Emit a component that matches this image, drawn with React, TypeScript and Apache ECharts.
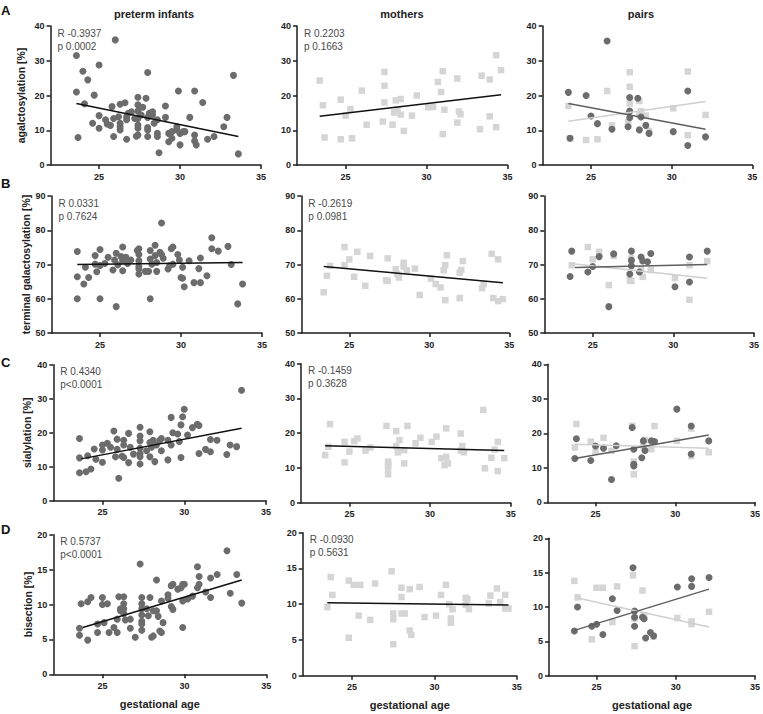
import React, { useEffect, useRef } from "react";
import * as echarts from "echarts";

type P = [number, number];

// ---------- texts ----------
const columnTitles = ["preterm infants", "mothers", "pairs"];
const rowLetters = ["A", "B", "C", "D"];
const yNames = ["agalctosylation [%]", "terminal galactosylation [%]", "sialylation [%]", "bisection [%]"];
const xName = "gestational age";
const xTicks = [25, 30, 35];
const xMin = 22;
const xMax = 35;
// [min, max, interval] per row
const yRanges: number[][] = [[0, 40, 10], [50, 90, 10], [0, 40, 10], [0, 20, 5]];

// ---------- stats ----------
const agalInfantsStat = ["R -0.3937", "p 0.0002"];
const agalMothersStat = ["R 0.2203", "p 0.1663"];
const galInfantsStat = ["R 0.0331", "p 0.7624"];
const galMothersStat = ["R -0.2619", "p 0.0981"];
const sialInfantsStat = ["R 0.4340", "p<0.0001"];
const sialMothersStat = ["R -0.1459", "p 0.3628"];
const bisInfantsStat = ["R 0.5737", "p<0.0001"];
const bisMothersStat = ["R -0.0930", "p 0.5631"];

// ---------- A: agalactosylation ----------
const agalInfants: P[] = [[23.6,31.5],[23.6,21.0],[23.7,7.9],[24.0,27.0],[24.1,17.6],[24.3,24.5],[24.6,12.0],[24.7,20.1],[25.0,28.8],[25.0,14.2],[25.0,10.6],[25.4,13.0],[25.5,11.8],[25.7,11.4],[25.8,16.8],[25.9,8.2],[26.0,36.0],[25.9,13.4],[26.2,13.9],[26.3,17.5],[26.3,12.0],[26.3,11.0],[26.3,10.1],[26.6,17.9],[26.7,13.9],[26.7,13.0],[26.7,7.4],[26.8,14.9],[27.0,15.3],[27.2,13.4],[27.4,19.5],[27.4,17.3],[27.4,15.5],[27.4,13.4],[27.4,11.5],[27.4,10.6],[27.4,8.6],[27.3,8.3],[27.6,14.4],[27.7,16.6],[27.9,19.2],[28.0,26.6],[28.0,13.7],[28.0,10.8],[28.0,10.1],[28.0,8.2],[28.1,14.9],[28.3,15.3],[28.3,14.4],[28.4,12.0],[28.6,13.0],[28.6,9.1],[28.6,8.2],[28.7,3.5],[29.1,17.0],[29.1,13.7],[29.3,9.1],[29.3,6.7],[29.5,9.6],[29.5,7.7],[29.8,11.0],[29.8,10.1],[29.9,21.3],[30.0,9.1],[30.0,5.8],[30.2,9.6],[30.3,9.6],[30.6,13.7],[30.9,8.6],[30.9,21.3],[30.9,6.9],[31.0,5.8],[31.4,18.0],[31.7,7.4],[32.1,8.2],[32.7,11.0],[32.9,13.7],[33.3,25.8],[33.6,3.2]];
const agalInfantsFit: P[] = [[23.6,17.7],[33.6,8.2]];
const agalMothers: P[] = [[23.4,24.3],[23.6,17.2],[23.7,7.9],[24.7,18.8],[24.7,7.4],[25.0,14.2],[25.3,16.1],[25.4,7.7],[26.0,21.4],[26.3,11.6],[27.3,12.5],[27.4,26.8],[27.4,22.8],[27.4,18.0],[27.9,11.6],[28.0,15.1],[28.1,18.6],[28.2,15.9],[28.4,19.0],[28.4,14.5],[28.6,9.8],[29.1,14.2],[29.4,20.0],[30.1,16.6],[30.4,16.7],[30.7,23.9],[30.9,21.0],[31.0,27.0],[31.0,8.9],[31.1,15.9],[31.9,12.2],[31.9,24.9],[32.0,15.4],[32.1,14.6],[33.3,10.3],[33.4,25.7],[33.9,24.6],[33.9,14.0],[34.3,10.9],[34.3,31.6],[34.6,27.3]];
const agalMothersFit: P[] = [[23.4,14.0],[34.6,20.2]];
const agalPairInfants: P[] = [[23.6,20.9],[23.7,7.7],[24.7,20.0],[25.0,14.1],[25.4,11.9],[26.0,35.7],[26.3,10.3],[27.3,11.0],[27.4,19.4],[27.4,15.5],[27.4,13.6],[27.9,19.2],[28.0,10.1],[28.1,13.8],[28.4,11.4],[28.6,9.1],[30.1,9.6],[31.0,21.3],[31.0,5.6],[32.1,8.1]];
const agalPairMothers: P[] = [[23.6,17.0],[23.7,7.7],[24.7,7.2],[25.4,7.4],[26.0,21.3],[26.3,11.4],[27.4,26.7],[27.4,22.5],[27.4,17.7],[27.3,12.3],[28.0,18.4],[28.1,15.5],[28.0,14.4],[28.4,14.2],[28.6,9.8],[30.1,16.3],[31.0,26.9],[31.0,8.6],[32.1,14.4]];
const agalPairInfantsFit: P[] = [[23.6,17.7],[32.1,10.3]];
const agalPairMothersFit: P[] = [[23.6,12.6],[32.1,18.3]];

// ---------- B: terminal galactosylation ----------
const galInfants: P[] = [[23.6,73.8],[23.6,66.4],[23.6,60.0],[24.0,64.3],[24.1,69.2],[24.3,66.2],[24.7,70.1],[24.7,72.6],[24.8,67.9],[25.0,74.4],[25.0,69.7],[25.0,60.0],[25.3,70.3],[25.5,72.1],[25.8,68.4],[25.9,71.3],[26.0,73.3],[26.0,57.7],[26.1,69.9],[26.3,72.3],[26.4,75.1],[26.4,71.1],[26.4,68.2],[26.6,72.1],[26.7,70.3],[26.9,71.3],[27.3,74.1],[27.4,74.6],[27.4,72.9],[27.4,71.1],[27.4,69.4],[27.4,68.7],[27.4,67.2],[27.8,68.0],[28.0,68.0],[28.1,74.1],[28.1,60.0],[28.1,71.6],[28.2,70.1],[28.4,72.6],[28.4,75.6],[28.5,70.6],[28.5,68.0],[28.7,73.6],[28.8,82.1],[28.8,72.9],[28.9,71.8],[29.2,68.7],[29.3,69.7],[29.4,74.6],[29.5,75.1],[29.5,70.1],[29.8,72.9],[29.9,71.3],[30.0,66.2],[30.1,69.2],[30.1,66.0],[30.2,63.5],[30.5,71.1],[30.8,64.7],[31.1,68.8],[31.2,71.9],[31.2,64.7],[31.6,66.7],[31.9,77.8],[31.9,74.6],[32.3,73.9],[32.9,75.3],[33.1,70.0],[33.5,58.5],[33.8,64.3]];
const galInfantsFit: P[] = [[23.6,70.0],[33.8,70.6]];
const galMothers: P[] = [[23.4,61.9],[23.6,66.7],[23.8,69.6],[24.7,75.1],[24.7,69.8],[25.0,71.5],[25.3,66.4],[25.5,73.7],[26.0,63.8],[26.3,72.5],[27.4,71.8],[27.3,65.4],[27.4,65.2],[27.9,68.6],[28.0,67.2],[28.1,66.2],[28.4,70.5],[28.4,69.4],[28.6,68.3],[29.1,68.8],[29.4,61.1],[30.1,65.9],[30.4,64.3],[30.7,63.3],[30.9,68.3],[31.0,69.8],[31.0,59.6],[31.1,72.7],[31.9,60.2],[31.9,67.6],[32.0,68.4],[32.1,71.0],[33.3,63.1],[33.4,64.3],[33.9,73.1],[34.0,60.2],[34.3,71.5],[34.3,59.3],[34.6,59.9]];
const galMothersFit: P[] = [[23.4,69.4],[34.6,64.7]];
const galPairInfants: P[] = [[23.6,66.5],[23.7,73.9],[24.7,67.8],[25.0,69.4],[25.4,72.3],[26.0,57.7],[26.3,73.1],[27.3,67.2],[27.4,73.9],[27.4,71.2],[27.4,69.6],[27.9,67.8],[28.0,72.2],[28.1,71.0],[28.4,70.8],[28.6,73.2],[30.1,63.5],[31.0,72.2],[31.0,64.9],[32.1,73.9]];
const galPairMothers: P[] = [[23.7,69.8],[24.7,75.1],[25.0,71.5],[25.4,73.7],[26.0,64.0],[26.3,72.5],[27.4,71.8],[27.3,65.4],[27.4,65.2],[28.0,68.6],[28.1,66.4],[28.6,68.4],[30.1,66.0],[31.0,69.8],[31.0,59.7],[32.1,71.0]];
const galPairInfantsFit: P[] = [[23.9,69.1],[32.1,70.0]];
const galPairMothersFit: P[] = [[23.6,70.3],[32.1,66.0]];

// ---------- C: sialylation ----------
const sialInfants: P[] = [[23.6,12.6],[23.6,18.3],[23.6,8.2],[24.0,8.5],[24.1,13.2],[24.3,9.3],[24.5,15.2],[24.6,12.2],[25.0,11.3],[25.0,14.9],[25.0,16.4],[25.3,16.9],[25.5,15.7],[25.7,20.5],[25.8,12.9],[25.9,18.1],[25.9,15.1],[26.0,6.6],[26.2,13.1],[26.3,17.8],[26.3,16.4],[26.3,12.7],[26.6,11.2],[26.6,19.8],[26.7,15.7],[26.9,13.7],[27.3,21.6],[27.3,17.6],[27.3,19.0],[27.3,15.4],[27.3,13.9],[27.3,12.9],[27.3,10.8],[27.7,14.7],[27.9,17.1],[27.9,20.3],[27.9,12.9],[28.0,15.7],[28.1,17.8],[28.2,11.5],[28.3,16.4],[28.5,17.8],[28.6,18.3],[28.6,14.7],[29.0,17.8],[29.0,12.0],[29.2,24.5],[29.2,16.4],[29.3,20.0],[29.6,19.6],[29.7,17.4],[29.8,22.3],[29.8,12.7],[29.9,24.7],[30.0,26.9],[30.2,19.3],[30.5,21.5],[30.8,22.5],[30.9,22.1],[30.9,13.9],[31.3,15.1],[31.6,18.0],[31.6,14.4],[32.0,17.8],[32.6,13.6],[32.8,16.4],[33.2,15.9],[33.5,32.5]];
const sialInfantsFit: P[] = [[23.7,12.3],[33.5,21.3]];
const sialMothers: P[] = [[23.5,13.7],[23.7,16.1],[23.8,22.6],[24.7,17.5],[24.7,11.6],[25.0,14.7],[25.3,17.7],[25.5,18.5],[26.0,15.0],[26.3,15.9],[27.3,22.1],[27.4,11.8],[27.4,10.8],[27.4,10.1],[27.4,8.2],[27.9,20.6],[27.9,16.3],[28.0,14.5],[28.1,18.0],[28.4,15.1],[28.4,11.3],[28.6,22.1],[29.1,17.1],[29.4,18.7],[30.1,17.5],[30.4,19.0],[30.7,12.8],[30.9,10.8],[31.0,21.4],[31.0,13.2],[31.1,11.3],[31.9,19.9],[31.9,15.0],[32.0,16.3],[32.1,14.5],[33.3,26.7],[33.4,9.9],[33.8,12.9],[34.0,15.3],[34.2,17.5],[34.2,9.1],[34.6,12.8]];
const sialMothersFit: P[] = [[23.5,16.4],[34.6,15.0]];
const sialPairInfants: P[] = [[23.7,12.7],[23.8,18.4],[24.7,12.1],[25.0,16.3],[25.5,15.7],[26.0,6.6],[26.3,16.4],[27.3,21.7],[27.4,15.4],[27.4,11.0],[27.4,10.5],[27.9,12.9],[28.0,17.8],[28.1,15.0],[28.5,17.8],[28.7,17.6],[30.1,27.0],[31.0,22.1],[31.0,14.0],[32.1,17.8]];
const sialPairMothers: P[] = [[23.7,15.9],[23.8,22.7],[24.7,17.6],[25.0,14.7],[25.5,18.7],[26.0,14.9],[27.3,22.2],[27.4,11.8],[27.4,8.1],[28.1,18.1],[28.0,16.3],[28.5,15.4],[28.7,22.1],[30.1,17.8],[31.0,21.4],[31.0,13.4],[32.1,14.5]];
const sialPairInfantsFit: P[] = [[23.7,12.7],[32.1,19.5]];
const sialPairMothersFit: P[] = [[23.7,16.8],[32.1,15.7]];

// ---------- D: bisection ----------
const bisInfants: P[] = [[23.6,6.6],[23.6,5.6],[23.7,10.1],[24.1,4.9],[24.1,10.4],[24.3,11.0],[24.7,6.0],[24.7,7.2],[25.0,11.0],[25.0,10.0],[25.1,7.4],[25.3,10.1],[25.4,6.0],[25.7,6.7],[25.9,6.0],[25.9,7.9],[26.0,11.1],[26.1,9.1],[26.1,9.4],[26.3,11.1],[26.3,10.1],[26.3,9.4],[26.3,8.7],[26.4,7.8],[26.7,6.6],[26.7,7.9],[27.0,5.3],[27.3,15.8],[27.4,11.0],[27.4,10.1],[27.4,9.4],[27.4,8.5],[27.4,7.6],[27.4,7.2],[27.4,6.3],[27.7,9.4],[27.8,8.4],[27.9,11.0],[28.0,5.3],[28.1,5.5],[28.1,9.1],[28.3,13.5],[28.3,9.1],[28.4,8.3],[28.5,6.2],[28.6,6.0],[28.6,10.5],[28.7,7.4],[29.0,11.4],[29.0,10.9],[29.2,9.7],[29.3,9.3],[29.2,12.7],[29.3,12.9],[29.6,12.2],[29.8,12.4],[29.9,10.5],[29.9,12.9],[30.0,12.9],[29.9,6.7],[30.2,10.8],[30.5,11.2],[30.8,12.4],[30.8,15.4],[30.9,14.0],[30.9,12.9],[31.3,11.8],[31.6,11.0],[31.6,13.8],[32.0,14.3],[32.6,17.7],[32.8,11.6],[33.2,14.3],[33.5,10.2]];
const bisInfantsFit: P[] = [[23.8,6.7],[33.5,13.5]];
const bisMothers: P[] = [[23.5,9.6],[23.7,13.8],[23.8,11.3],[24.8,13.3],[24.8,5.3],[25.1,12.7],[25.4,8.4],[25.5,12.7],[26.1,7.8],[26.4,12.9],[27.4,14.6],[27.5,8.7],[27.5,7.9],[27.5,4.4],[28.0,12.3],[28.0,11.0],[28.0,8.7],[28.2,8.7],[28.5,12.1],[28.5,6.3],[28.6,5.7],[29.1,12.4],[29.4,8.2],[30.1,8.4],[30.4,11.3],[30.7,12.7],[30.9,10.0],[31.0,8.0],[31.0,7.4],[31.1,9.3],[31.9,10.9],[32.0,10.7],[31.9,9.9],[32.1,9.3],[33.3,10.1],[33.4,11.2],[33.8,12.2],[34.0,10.3],[34.3,11.3],[34.3,9.4],[34.5,9.4]];
const bisMothersFit: P[] = [[23.5,10.2],[34.5,9.9]];
const bisPairInfants: P[] = [[23.6,6.5],[23.8,10.0],[24.7,7.2],[25.0,7.5],[25.4,6.0],[26.0,11.2],[26.3,9.5],[27.3,15.7],[27.4,9.4],[27.4,8.5],[27.4,7.2],[27.9,8.5],[28.0,8.3],[28.1,5.5],[28.4,6.3],[28.6,5.8],[30.1,12.9],[31.0,14.1],[31.0,13.0],[32.1,14.3]];
const bisPairMothers: P[] = [[23.6,13.8],[23.8,11.4],[24.7,5.3],[25.0,12.8],[25.4,12.8],[26.0,7.8],[26.3,13.0],[27.3,14.6],[27.4,4.3],[27.4,8.3],[27.9,12.4],[28.0,8.8],[28.6,5.7],[30.1,8.4],[31.0,7.9],[31.0,7.5],[32.1,9.3]];
const bisPairInfantsFit: P[] = [[23.6,6.6],[32.1,12.6]];
const bisPairMothersFit: P[] = [[23.8,11.3],[32.1,7.1]];

// ---------- style ----------
const FONT = "'Liberation Sans', Arial, Helvetica, sans-serif";
const DARK = "#6c6c6c";
const LIGHT = "#d5d5d5";
const AXIS = "#1c1c1c";
const LIGHT_LINE = "#cfcfcf";

// grid rectangles [left, top, width, height], row-major
const layout: number[][] = [
  [50.5, 26, 210.5, 139], [297, 26, 210.5, 139], [542.6, 26, 209.7, 139],
  [51.4, 196, 210.6, 137], [301.3, 196, 208, 137], [544.3, 196, 209.7, 137],
  [53.3, 364.7, 212.8, 136], [301, 363.7, 209.7, 139], [547.7, 364.3, 208, 138],
  [53.3, 534.7, 213, 139.6], [302.7, 532.7, 214, 143], [549, 538.3, 206, 137.4],
];
const titleX = [154, 402, 641];
const letterY = [10, 183, 362, 529];
const yNameGap = [24, 20, 21, 20];

type Panel = {
  circles?: P[];
  squares?: P[];
  fits: { data: P[]; color: string }[];
  stat?: string[];
};

const panels: Panel[] = [
  { circles: agalInfants, fits: [{ data: agalInfantsFit, color: "#111" }], stat: agalInfantsStat },
  { squares: agalMothers, fits: [{ data: agalMothersFit, color: "#111" }], stat: agalMothersStat },
  { circles: agalPairInfants, squares: agalPairMothers, fits: [{ data: agalPairMothersFit, color: LIGHT_LINE }, { data: agalPairInfantsFit, color: "#5e5e5e" }] },
  { circles: galInfants, fits: [{ data: galInfantsFit, color: "#111" }], stat: galInfantsStat },
  { squares: galMothers, fits: [{ data: galMothersFit, color: "#111" }], stat: galMothersStat },
  { circles: galPairInfants, squares: galPairMothers, fits: [{ data: galPairMothersFit, color: LIGHT_LINE }, { data: galPairInfantsFit, color: "#5e5e5e" }] },
  { circles: sialInfants, fits: [{ data: sialInfantsFit, color: "#111" }], stat: sialInfantsStat },
  { squares: sialMothers, fits: [{ data: sialMothersFit, color: "#111" }], stat: sialMothersStat },
  { circles: sialPairInfants, squares: sialPairMothers, fits: [{ data: sialPairMothersFit, color: LIGHT_LINE }, { data: sialPairInfantsFit, color: "#5e5e5e" }] },
  { circles: bisInfants, fits: [{ data: bisInfantsFit, color: "#111" }], stat: bisInfantsStat },
  { squares: bisMothers, fits: [{ data: bisMothersFit, color: "#111" }], stat: bisMothersStat },
  { circles: bisPairInfants, squares: bisPairMothers, fits: [{ data: bisPairMothersFit, color: LIGHT_LINE }, { data: bisPairInfantsFit, color: "#5e5e5e" }] },
];

function buildOption() {
  const grid: any[] = [];
  const xAxis: any[] = [];
  const yAxis: any[] = [];
  const series: any[] = [];
  const graphic: any[] = [];

  panels.forEach((p, i) => {
    const row = Math.floor(i / 3);
    const col = i % 3;
    const [left, top, width, height] = layout[i];
    grid.push({ left, top, width, height, containLabel: false });
    xAxis.push({
      gridIndex: i,
      type: "value",
      min: xMin,
      max: xMax,
      name: row === 3 ? xName : "",
      nameLocation: "middle",
      nameGap: 24,
      nameTextStyle: { fontFamily: FONT, fontWeight: "bold", fontSize: 11, color: "#222" },
      axisLine: { show: true, onZero: false, lineStyle: { color: AXIS, width: 1.5 } },
      axisTick: { show: true, customValues: xTicks, length: 4, lineStyle: { color: AXIS, width: 1.5 } },
      axisLabel: { customValues: xTicks, margin: 7, fontFamily: FONT, fontWeight: "bold", fontSize: 9, color: "#222" },
      splitLine: { show: false },
    });
    const [ymin, ymax, yint] = yRanges[row];
    yAxis.push({
      gridIndex: i,
      type: "value",
      min: ymin,
      max: ymax,
      interval: yint,
      name: col === 0 ? yNames[row] : "",
      nameLocation: "middle",
      nameGap: yNameGap[row],
      nameTextStyle: { fontFamily: FONT, fontWeight: "bold", fontSize: 10.5, color: "#222" },
      axisLine: { show: true, onZero: false, lineStyle: { color: AXIS, width: 1.5 } },
      axisTick: { show: true, length: 4, lineStyle: { color: AXIS, width: 1.5 } },
      axisLabel: { margin: 6, showMinLabel: true, showMaxLabel: true, fontFamily: FONT, fontWeight: "bold", fontSize: 9, color: "#222" },
      splitLine: { show: false },
    });
    if (p.squares) {
      series.push({
        type: "scatter", xAxisIndex: i, yAxisIndex: i, data: p.squares,
        symbol: "rect", symbolSize: 6.5, itemStyle: { color: LIGHT, opacity: 1 }, z: 2, silent: true,
      });
    }
    if (p.circles) {
      series.push({
        type: "scatter", xAxisIndex: i, yAxisIndex: i, data: p.circles,
        symbol: "circle", symbolSize: 7, itemStyle: { color: DARK, opacity: 1 }, z: 3, silent: true,
      });
    }
    p.fits.forEach((f) => {
      series.push({
        type: "line", xAxisIndex: i, yAxisIndex: i, data: f.data, showSymbol: false, symbol: "none",
        lineStyle: { color: f.color, width: 1.5 }, z: 4, silent: true,
      });
    });
    if (p.stat) {
      p.stat.forEach((t, k) => {
        graphic.push({
          type: "text", x: left + 7, y: top + 7 + k * 13,
          style: { text: t, fill: "#4a4a4a", fontFamily: FONT, fontSize: 10, align: "left", verticalAlign: "middle", textAlign: "left", textVerticalAlign: "middle" },
        });
      });
    }
  });

  columnTitles.forEach((t, c) => {
    graphic.push({
      type: "text", x: titleX[c], y: 14,
      style: { text: t, fill: "#222", fontFamily: FONT, fontWeight: "bold", fontSize: 11, align: "center", verticalAlign: "middle", textAlign: "center", textVerticalAlign: "middle" },
    });
  });
  rowLetters.forEach((t, r) => {
    graphic.push({
      type: "text", x: 1, y: letterY[r],
      style: { text: t, fill: "#111", fontFamily: FONT, fontWeight: "bold", fontSize: 13, align: "left", verticalAlign: "middle", textAlign: "left", textVerticalAlign: "middle" },
    });
  });

  return {
    animation: false,
    backgroundColor: "#ffffff",
    grid, xAxis, yAxis, series, graphic,
  };
}

export default function App() {
  const ref = useRef<HTMLDivElement>(null);
  useEffect(() => {
    if (!ref.current) return;
    const chart = echarts.init(ref.current, null, { renderer: "svg" });
    chart.setOption(buildOption() as any);
    return () => chart.dispose();
  }, []);
  return (
    <div
      ref={ref}
      style={{ position: "fixed", left: 0, top: 0, width: 763, height: 714, background: "#fff" }}
    />
  );
}
